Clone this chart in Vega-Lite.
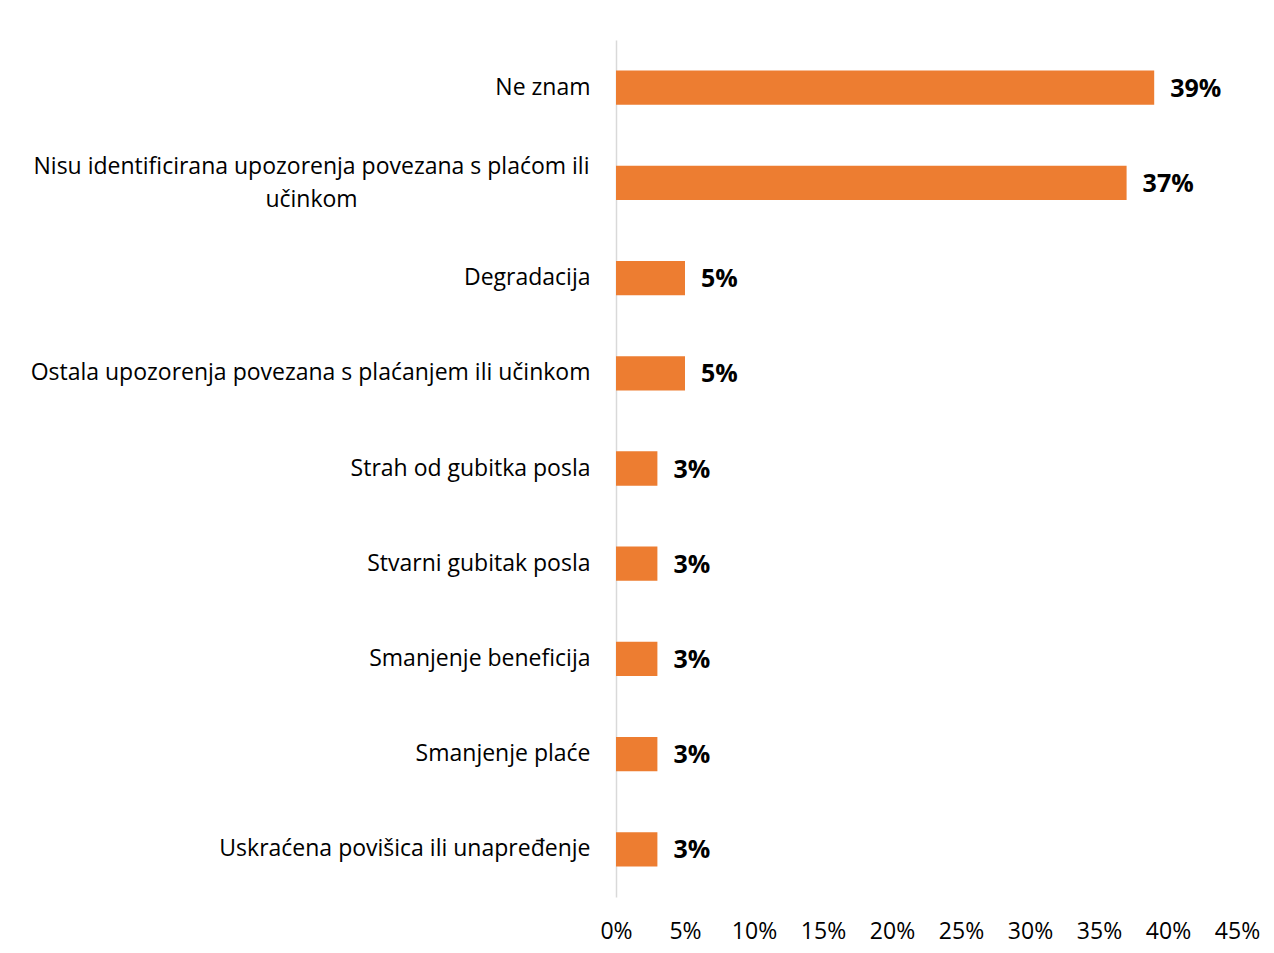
{
  "$schema": "https://vega.github.io/schema/vega-lite/v6.json",
  "autosize": {"type": "none"},
  "width": 621,
  "height": 857,
  "padding": {"left": 616, "top": 40, "right": 37, "bottom": 56},
  "background": "white",
  "config": {"view": {"stroke": null}, "font": "Open Sans"},
  "data": {
    "values": [
      {"kategorija": "Ne znam", "udio": 0.39},
      {"kategorija": "Nisu identificirana upozorenja povezana s plaćom ili učinkom", "udio": 0.37},
      {"kategorija": "Degradacija", "udio": 0.05},
      {"kategorija": "Ostala upozorenja povezana s plaćanjem ili učinkom", "udio": 0.05},
      {"kategorija": "Strah od gubitka posla", "udio": 0.03},
      {"kategorija": "Stvarni gubitak posla", "udio": 0.03},
      {"kategorija": "Smanjenje beneficija", "udio": 0.03},
      {"kategorija": "Smanjenje plaće", "udio": 0.03},
      {"kategorija": "Uskraćena povišica ili unapređenje", "udio": 0.03}
    ]
  },
  "encoding": {
    "y": {
      "field": "kategorija",
      "type": "nominal",
      "sort": null,
      "scale": {"paddingInner": 0.64, "paddingOuter": 0.32},
      "axis": {
        "title": null,
        "ticks": false,
        "domain": true,
        "domainColor": "#D9D9D9",
        "domainWidth": 1.5,
        "labelPadding": {"condition": {"test": "datum.value == 'Nisu identificirana upozorenja povezana s plaćom ili učinkom'", "value": 305}, "value": 26},
        "labelAlign": {"condition": {"test": "datum.value == 'Nisu identificirana upozorenja povezana s plaćom ili učinkom'", "value": "center"}, "value": "right"},
        "labelOffset": {"condition": {"test": "datum.value == 'Nisu identificirana upozorenja povezana s plaćom ili učinkom'", "value": -16}, "value": 0},
        "labelFontSize": 23,
        "labelColor": "#000000",
        "labelLimit": 620,
        "labelLineHeight": 33,
        "labelExpr": "datum.label == 'Nisu identificirana upozorenja povezana s plaćom ili učinkom' ? ['Nisu identificirana upozorenja povezana s plaćom ili', 'učinkom'] : datum.label"
      }
    },
    "x": {
      "field": "udio",
      "type": "quantitative",
      "scale": {"domain": [0, 0.45], "nice": false},
      "axis": {
        "title": null,
        "format": ".0%",
        "values": [0, 0.05, 0.1, 0.15, 0.2, 0.25, 0.3, 0.35, 0.4, 0.45],
        "grid": false,
        "domain": false,
        "ticks": false,
        "labelPadding": 23,
        "labelFontSize": 23,
        "labelColor": "#000000",
        "labelFlush": false
      }
    }
  },
  "layer": [
    {"mark": {"type": "bar", "color": "#ED7D31"}},
    {
      "mark": {"type": "text", "align": "left", "baseline": "middle", "dx": 16, "dy": 1, "fontSize": 25, "fontWeight": "bold", "color": "#000000"},
      "encoding": {"text": {"field": "udio", "type": "quantitative", "format": ".0%"}}
    }
  ]
}
